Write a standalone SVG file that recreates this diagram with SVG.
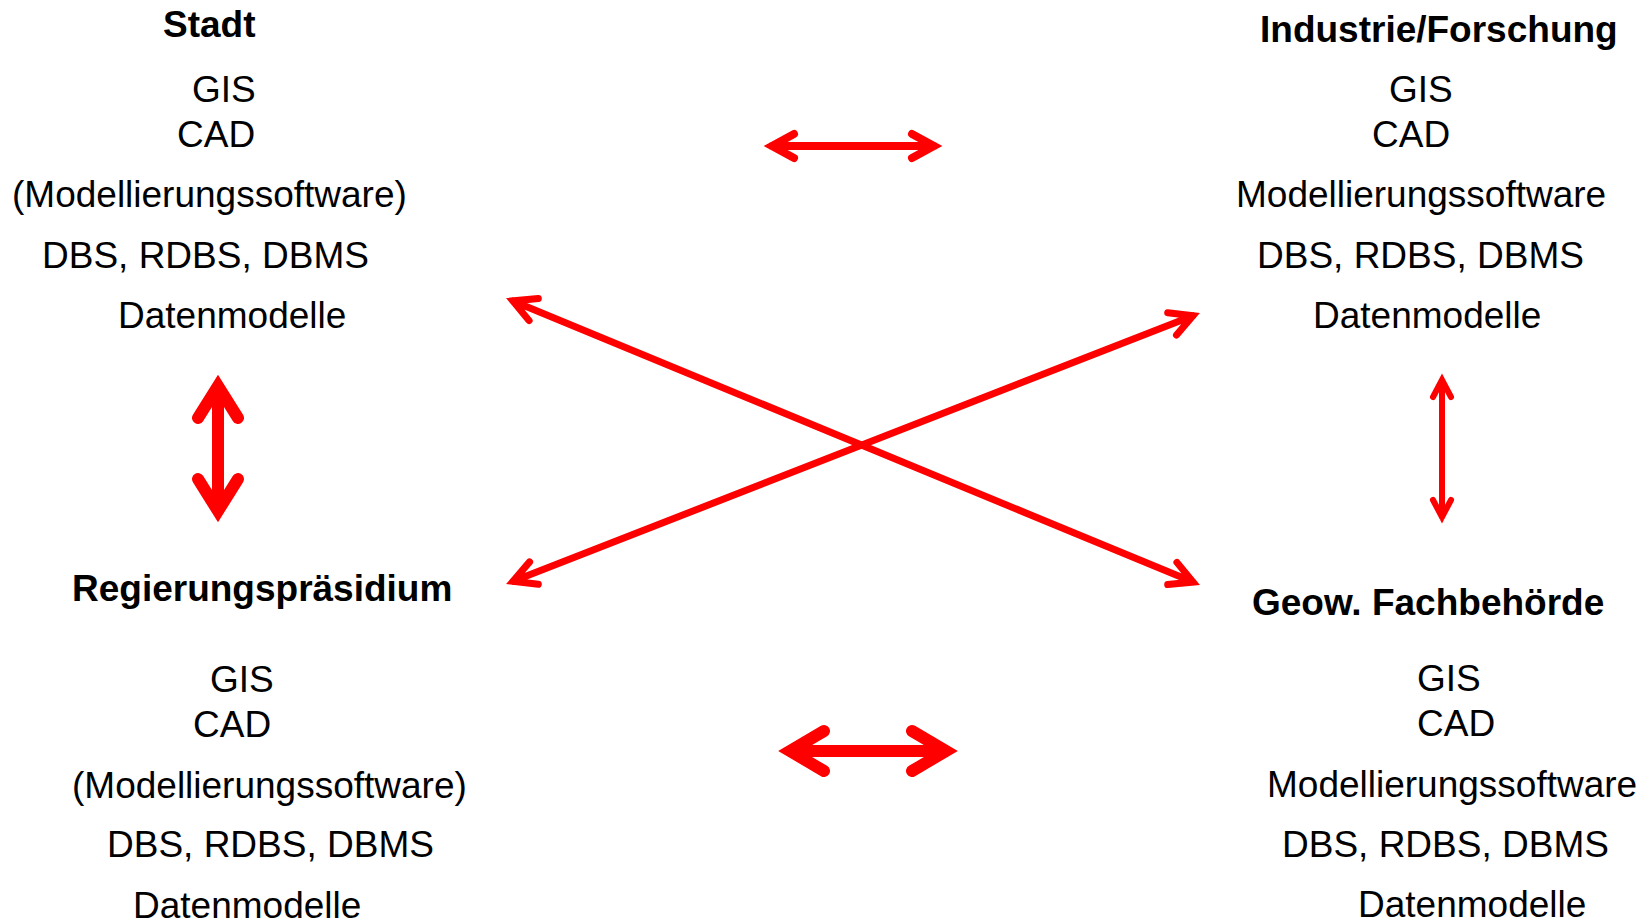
<svg xmlns="http://www.w3.org/2000/svg" width="1652" height="924" viewBox="0 0 1652 924">
<style>
text{font-family:"Liberation Sans",Arial,sans-serif;font-size:37px;fill:#000}
.t{font-weight:bold}
.a{fill:none;stroke:#ff0000;stroke-linecap:round;stroke-linejoin:miter;stroke-miterlimit:10}
</style>
<rect width="1652" height="924" fill="#fff"/>
<g id="stadt">
<text class="t" x="163" y="37">Stadt</text>
<text x="192" y="102">GIS</text>
<text x="177" y="147">CAD</text>
<text x="12" y="207">(Modellierungssoftware)</text>
<text x="42" y="268">DBS, RDBS, DBMS</text>
<text x="118" y="328">Datenmodelle</text>
</g>
<g id="industrie">
<text class="t" x="1260" y="42">Industrie/Forschung</text>
<text x="1389" y="102">GIS</text>
<text x="1372" y="147">CAD</text>
<text x="1236" y="207">Modellierungssoftware</text>
<text x="1257" y="268">DBS, RDBS, DBMS</text>
<text x="1313" y="328">Datenmodelle</text>
</g>
<g id="regierung">
<text class="t" x="72" y="601">Regierungspräsidium</text>
<text x="210" y="692">GIS</text>
<text x="193" y="737">CAD</text>
<text x="72" y="798">(Modellierungssoftware)</text>
<text x="107" y="857">DBS, RDBS, DBMS</text>
<text x="133" y="918">Datenmodelle</text>
</g>
<g id="geow">
<text class="t" x="1252" y="615">Geow. Fachbehörde</text>
<text x="1417" y="691">GIS</text>
<text x="1417" y="736">CAD</text>
<text x="1267" y="797">Modellierungssoftware</text>
<text x="1282" y="857">DBS, RDBS, DBMS</text>
<text x="1358" y="917">Datenmodelle</text>
</g>
<g id="connectors">
<path class="a" stroke-width="8" d="M772,146 H934 M794,134 L772,146 L794,158 M912,134 L934,146 L912,158"/>
<path class="a" stroke-width="12" d="M790,751 H946 M824,731 L790,751 L824,771 M912,731 L946,751 L912,771"/>
<path class="a" stroke-width="12" d="M218,386 V511 M198,418 L218,386 L238,418 M198,479 L218,511 L238,479"/>
<path class="a" stroke-width="6" d="M1442,380 V517 M1433,397 L1442,380 L1451,397 M1433,500 L1442,517 L1451,500"/>
<path class="a" stroke-width="7" d="M512.9,300.9 L1193.1,582.1 M529.1,320.6 L512.9,300.9 L538.3,298.4 M1167.7,584.6 L1193.1,582.1 L1176.9,562.4"/>
<path class="a" stroke-width="7" d="M513,581.3 L1193,315.7 M538.3,584.3 L513,581.3 L529.6,561.9 M1176.5,335.1 L1193,315.7 L1167.7,312.7"/>
</g>
</svg>
